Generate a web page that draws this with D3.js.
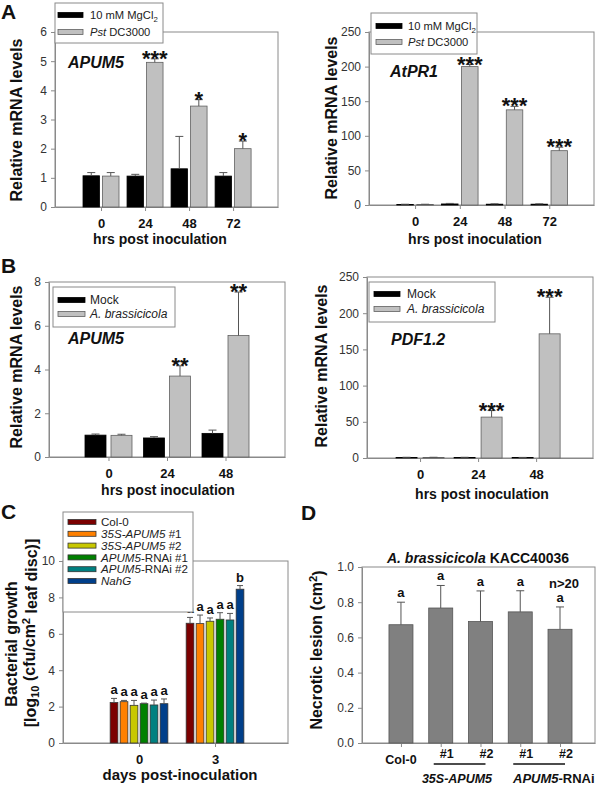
<!DOCTYPE html>
<html><head><meta charset="utf-8">
<script src="https://cdn.jsdelivr.net/npm/d3@7"></script>
<style>body{margin:0;background:#fff}svg{display:block}text{font-family:"Liberation Sans",Arial,sans-serif}</style>
</head><body><svg id="c" width="600" height="786"></svg>
<script>
// ---------- DATA ----------
const hpiA = ["0", "24", "48", "72"];
const apum5Mg = [1.07, 1.06, 1.31, 1.06];
const apum5MgErr = [0.11, 0.06, 1.11, 0.12];
const apum5Pst = [1.06, 4.96, 3.46, 2.0];
const apum5PstErr = [0.12, 0.12, 0.22, 0.26];
const apum5PstSig = ["", "***", "*", "*"];

const pr1Mg = [0.8, 1.5, 1.2, 1.2];
const pr1MgErr = [0.3, 0.8, 0.5, 0.5];
const pr1Pst = [0.8, 200, 137.5, 78.5];
const pr1PstErr = [0.3, 3, 5, 5];
const pr1PstSig = ["", "***", "***", "***"];

const hpiB = ["0", "24", "48"];
const apum5Mock = [1.0, 0.87, 1.08];
const apum5MockErr = [0.05, 0.06, 0.15];
const apum5Ab = [0.99, 3.7, 5.55];
const apum5AbErr = [0.05, 0.47, 1.99];
const apum5AbSig = ["", "**", "**"];

const pdfMock = [0.8, 0.8, 0.6];
const pdfMockErr = [0.2, 0.2, 0.2];
const pdfAb = [0.8, 56.5, 171.5];
const pdfAbErr = [0.2, 9, 50.5];
const pdfAbSig = ["", "***", "***"];

const daysC = ["0", "3"];
const linesC = ["Col-0", "35S-APUM5 #1", "35S-APUM5 #2", "APUM5-RNAi #1", "APUM5-RNAi #2", "NahG"];
const growthDay0 = [2.22, 2.27, 2.07, 2.16, 2.09, 2.16];
const growthDay0Err = [0.23, 0.07, 0.27, 0.03, 0.27, 0.26];
const growthDay3 = [6.58, 6.56, 6.69, 6.80, 6.76, 8.45];
const growthDay3Err = [0.32, 0.47, 0.18, 0.36, 0.36, 0.2];
const lettersDay0 = ["a", "a", "a", "a", "a", "a"];
const lettersDay3 = ["a", "a", "a", "a", "a", "b"];

const linesD = ["Col-0", "#1", "#2", "#1", "#2"];
const lesion = [0.672, 0.767, 0.69, 0.745, 0.646];
const lesionErr = [0.128, 0.128, 0.174, 0.12, 0.127];
const lettersD = ["a", "a", "a", "a", "a"];

// ---------- STYLE ----------
const colorsC = ["#7b0000", "#ff8000", "#c8c800", "#008000", "#008080", "#003f8a"];
const FRAME = "#8a8a8a";
const svg = d3.select("#c");
svg.append("rect").attr("width", 600).attr("height", 786).attr("fill", "#fff");

function rich(sel, segs) {
  segs.forEach(s => {
    const t = sel.append("tspan").text(s.t);
    if (s.i) t.attr("font-style", "italic");
    if (s.sub) t.attr("font-size", "0.7em").attr("dy", "0.3em");
    if (s.sup) t.attr("font-size", "0.7em").attr("dy", "-0.45em");
    if (s.after) t.attr("dy", s.after);
  });
  return sel;
}

function axes(o) {
  const g = svg.append("g");
  const x = d3.scaleLinear().domain(o.xd).range([o.x0, o.x1]);
  const y = d3.scaleLinear().domain(o.yd).range([o.y1, o.y0]);
  g.append("rect").attr("x", o.x0).attr("y", o.y0).attr("width", o.x1 - o.x0)
    .attr("height", o.y1 - o.y0).attr("fill", "none").attr("stroke", FRAME);
  const ya = g.append("g").attr("transform", `translate(${o.x0},0)`)
    .call(d3.axisLeft(y).tickValues(o.yt).tickSize(4).tickSizeOuter(0).tickPadding(4)
      .tickFormat(o.yf || d3.format("d")));
  ya.select(".domain").attr("stroke", FRAME);
  ya.selectAll(".tick line").attr("stroke", FRAME);
  ya.selectAll(".tick text").attr("font-size", 12).attr("fill", "#333")
    .attr("font-family", '"Liberation Sans",Arial,sans-serif');
  const xa = g.append("g").attr("transform", `translate(0,${o.y1})`)
    .call(d3.axisBottom(x).tickValues(o.xt).tickSize(4).tickSizeOuter(0).tickPadding(o.xpad || 8)
      .tickFormat((d, i) => o.xl ? o.xl[i] : ""));
  xa.select(".domain").attr("stroke", FRAME);
  xa.selectAll(".tick line").attr("stroke", FRAME);
  xa.selectAll(".tick text").attr("font-size", o.xfs || 13).attr("font-weight", "bold").attr("fill", "#111")
    .attr("font-family", '"Liberation Sans",Arial,sans-serif');
  return { g, x, y };
}

function bars(ax, vals, errs, xs, w, fill, stroke, cap, ecol) {
  const g = ax.g.append("g");
  g.selectAll("rect").data(vals).join("rect")
    .attr("x", (d, i) => xs(i) - w / 2).attr("width", w)
    .attr("y", d => ax.y(d)).attr("height", d => ax.y(0) - ax.y(d))
    .attr("fill", fill).attr("stroke", stroke).attr("stroke-width", 0.8);
  const e = g.selectAll("g.e").data(vals).join("g");
  e.append("line").attr("x1", (d, i) => xs(i)).attr("x2", (d, i) => xs(i))
    .attr("y1", d => ax.y(d)).attr("y2", (d, i) => ax.y(d + errs[i])).attr("stroke", ecol || "#555");
  e.append("line").attr("x1", (d, i) => xs(i) - cap / 2).attr("x2", (d, i) => xs(i) + cap / 2)
    .attr("y1", (d, i) => ax.y(d + errs[i])).attr("y2", (d, i) => ax.y(d + errs[i])).attr("stroke", ecol || "#555");
}

function marks(ax, vals, errs, xs, labels, fs, gap) {
  ax.g.append("g").selectAll("text").data(labels).join("text")
    .attr("x", (d, i) => xs(i)).attr("y", (d, i) => ax.y(vals[i] + errs[i]) + gap)
    .attr("text-anchor", "middle").attr("font-size", fs).attr("font-weight", "bold").attr("fill", "#111")
    .text(d => d);
}

function legend(x, y, w, h, entries, sw, sx, tx, ys, fs) {
  const g = svg.append("g");
  g.append("rect").attr("x", x).attr("y", y).attr("width", w).attr("height", h)
    .attr("fill", "#fff").attr("stroke", FRAME);
  entries.forEach((e, i) => {
    g.append("rect").attr("x", sx).attr("y", ys[i] - 2.5).attr("width", sw).attr("height", 5)
      .attr("fill", e.fill).attr("stroke", e.stroke || e.fill).attr("stroke-width", 0.8);
    rich(g.append("text").attr("x", tx).attr("y", ys[i] + 4.2).attr("font-size", fs || 12).attr("fill", "#222"), e.segs);
  });
}

function ylabel(x, cy, segs, fs) {
  rich(svg.append("text").attr("transform", `translate(${x},${cy}) rotate(-90)`)
    .attr("text-anchor", "middle").attr("font-size", fs || 16).attr("font-weight", "bold").attr("fill", "#111"), segs);
}
function label(x, y, segs, fs, anchor) {
  const t = svg.append("text").attr("x", x).attr("y", y).attr("font-size", fs).attr("font-weight", "bold")
    .attr("fill", "#111").attr("text-anchor", anchor || "start");
  return rich(t, segs);
}

const BLACK = "#000", GREY = "#c0c0c0", GREYS = "#606060";
const mgSegs = [{ t: "10 mM MgCl" }, { t: "2", sub: true }];
const pstSegs = [{ t: "Pst", i: true }, { t: " DC3000" }];
const mockSegs = [{ t: "Mock" }];
const abSegs = [{ t: "A. brassicicola", i: true }];

// ---------- PANEL A left ----------
{
  const ax = axes({ x0: 55, x1: 278, y0: 32, y1: 207, xd: [-1.045, 4.02], yd: [0, 6],
    yt: [0, 1, 2, 3, 4, 5, 6], xt: [0, 1, 2, 3], xl: hpiA });
  bars(ax, apum5Mg, apum5MgErr, i => ax.x(i) - 9.75, 16.5, BLACK, BLACK, 8);
  bars(ax, apum5Pst, apum5PstErr, i => ax.x(i) + 9.75, 16.5, GREY, GREYS, 8);
  marks(ax, apum5Pst, apum5PstErr, i => ax.x(i) + 9.75, apum5PstSig, 22, 7);
  legend(55, 3, 108, 40, [{ fill: BLACK, segs: mgSegs }, { fill: GREY, stroke: GREYS, segs: pstSegs }],
    25, 58, 90, [15, 32], 11.2);
  label(68, 68, [{ t: "APUM5", i: true }], 16);
  ylabel(22, 120, [{ t: "Relative mRNA levels" }]);
  label(160, 244, [{ t: "hrs post inoculation" }], 14, "middle");
  label(1, 19, [{ t: "A" }], 21);
}
// ---------- PANEL A right ----------
{
  const ax = axes({ x0: 369, x1: 594, y0: 32, y1: 205, xd: [-1.03, 4.0], yd: [0, 250],
    yt: [0, 50, 100, 150, 200, 250], xt: [0, 1, 2, 3], xl: hpiA });
  bars(ax, pr1Mg, pr1MgErr, i => ax.x(i) - 10, 16.5, BLACK, BLACK, 8);
  bars(ax, pr1Pst, pr1PstErr, i => ax.x(i) + 10, 16.5, GREY, GREYS, 8);
  marks(ax, pr1Pst, pr1PstErr, i => ax.x(i) + 10, pr1PstSig, 22, 7);
  legend(371, 13, 106, 41, [{ fill: BLACK, segs: mgSegs }, { fill: GREY, stroke: GREYS, segs: pstSegs }],
    26, 376, 408, [26, 42], 11.2);
  label(390, 77, [{ t: "AtPR1", i: true }], 16);
  ylabel(337, 118, [{ t: "Relative mRNA levels" }]);
  label(475, 244, [{ t: "hrs post inoculation" }], 14, "middle");
}
// ---------- PANEL B left ----------
{
  const ax = axes({ x0: 49, x1: 285, y0: 282, y1: 457, xd: [-1.017, 3.017], yd: [0, 8],
    yt: [0, 2, 4, 6, 8], xt: [0, 1, 2], xl: hpiB });
  bars(ax, apum5Mock, apum5MockErr, i => ax.x(i) - 13, 21, BLACK, BLACK, 8);
  bars(ax, apum5Ab, apum5AbErr, i => ax.x(i) + 13, 21, GREY, GREYS, 8);
  marks(ax, apum5Ab, apum5AbErr, i => ax.x(i) + 13, apum5AbSig, 22, 7);
  legend(53, 287, 122, 40, [{ fill: BLACK, segs: mockSegs }, { fill: GREY, stroke: GREYS, segs: abSegs }],
    27, 58, 90, [300, 314]);
  label(68, 344, [{ t: "APUM5", i: true }], 16);
  ylabel(22, 367, [{ t: "Relative mRNA levels" }]);
  label(168, 495, [{ t: "hrs post inoculation" }], 14, "middle");
  label(1, 273, [{ t: "B" }], 21);
}
// ---------- PANEL B right ----------
{
  const ax = axes({ x0: 367, x1: 593, y0: 277, y1: 458, xd: [-0.914, 2.98], yd: [0, 250],
    yt: [0, 50, 100, 150, 200, 250], xt: [0, 1, 2], xl: hpiB });
  bars(ax, pdfMock, pdfMockErr, i => ax.x(i) - 13.5, 21, BLACK, BLACK, 8);
  bars(ax, pdfAb, pdfAbErr, i => ax.x(i) + 13.5, 21, GREY, GREYS, 8);
  marks(ax, pdfAb, pdfAbErr, i => ax.x(i) + 13.5, pdfAbSig, 22, 7);
  legend(369, 282, 126, 40, [{ fill: BLACK, segs: mockSegs }, { fill: GREY, stroke: GREYS, segs: abSegs }],
    26, 374, 407, [294, 309]);
  label(391, 345, [{ t: "PDF1.2", i: true }], 16);
  ylabel(327, 366, [{ t: "Relative mRNA levels" }]);
  label(482, 499, [{ t: "hrs post inoculation" }], 14, "middle");
}
// ---------- PANEL C ----------
{
  const ax = axes({ x0: 63, x1: 288, y0: 561, y1: 743, xd: [-1.0, 1.96], yd: [0, 10],
    yt: [0, 2, 4, 6, 8, 10], xt: [0, 1], xl: daysC });
  const off = j => (j - 2.5) * 10;
  linesC.forEach((ln, j) => {
    const v = [growthDay0[j], growthDay3[j]], e = [growthDay0Err[j], growthDay3Err[j]];
    bars(ax, v, e, i => ax.x(i) + off(j), 7.7, colorsC[j], "#333", 6);
    marks(ax, v, e, i => ax.x(i) + off(j), [lettersDay0[j], lettersDay3[j]], 13, -4);
  });
  const segsC = [
    [{ t: "Col-0" }], [{ t: "35S-APUM5", i: true }, { t: " #1" }], [{ t: "35S-APUM5", i: true }, { t: " #2" }],
    [{ t: "APUM5", i: true }, { t: "-RNAi #1" }], [{ t: "APUM5", i: true }, { t: "-RNAi #2" }], [{ t: "NahG", i: true }]
  ];
  legend(63, 512, 130, 100, segsC.map((s, j) => ({ fill: colorsC[j], stroke: "#333", segs: s })),
    28, 68, 101, [522, 533.8, 545.6, 557.4, 569.2, 581], 11.6);
  ylabel(17, 644, [{ t: "Bacterial growth" }]);
  ylabel(36, 633, [{ t: "[log" }, { t: "10", sub: true }, { t: " (cfu/cm", after: "-0.3em" }, { t: "2", sup: true }, { t: " leaf disc)]", after: "0.45em" }]);
  label(180, 780, [{ t: "days post-inoculation" }], 15, "middle");
  label(1, 519, [{ t: "C" }], 21);
}
// ---------- PANEL D ----------
{
  const ax = axes({ x0: 362, x1: 595, y0: 567, y1: 743, xd: [-0.98, 4.88], yd: [0, 1],
    yt: [0, 0.2, 0.4, 0.6, 0.8, 1.0], yf: d3.format(".1f"), xt: [0, 1, 2, 3, 4], xl: null });
  bars(ax, lesion, lesionErr, i => ax.x(i), 24, "#808080", "#555", 8);
  marks(ax, lesion, lesionErr, i => ax.x(i), lettersD, 13, -5);
  ax.g.append("g").selectAll("text").data(linesD).join("text")
    .attr("x", (d, i) => ax.x(i) + (i === 0 ? 0 : 6)).attr("y", (d, i) => i === 0 ? 764 : 758)
    .attr("text-anchor", "middle").attr("font-size", 12.5).attr("font-weight", "bold").attr("fill", "#111")
    .text(d => d);
  [[1, 2], [3, 4]].forEach(p => {
    ax.g.append("line").attr("x1", ax.x(p[0]) - 7).attr("x2", ax.x(p[1]) + 5)
      .attr("y1", 764).attr("y2", 764).attr("stroke", "#111").attr("stroke-width", 1.6);
  });
  label(457, 783, [{ t: "35S-APUM5", i: true }], 12.5, "middle");
  label(513, 783, [{ t: "APUM5", i: true }, { t: "-RNAi" }], 13, "start");
  label(ax.x(4) + 4, 588, [{ t: "n>20" }], 13, "middle");
  label(478, 563, [{ t: "A. brassicicola", i: true }, { t: " KACC40036" }], 14, "middle");
  ylabel(322, 650, [{ t: "Necrotic lesion (cm" }, { t: "2", sup: true }, { t: ")", after: "0.45em" }]);
  label(301, 520, [{ t: "D" }], 21);
}
</script></body></html>
